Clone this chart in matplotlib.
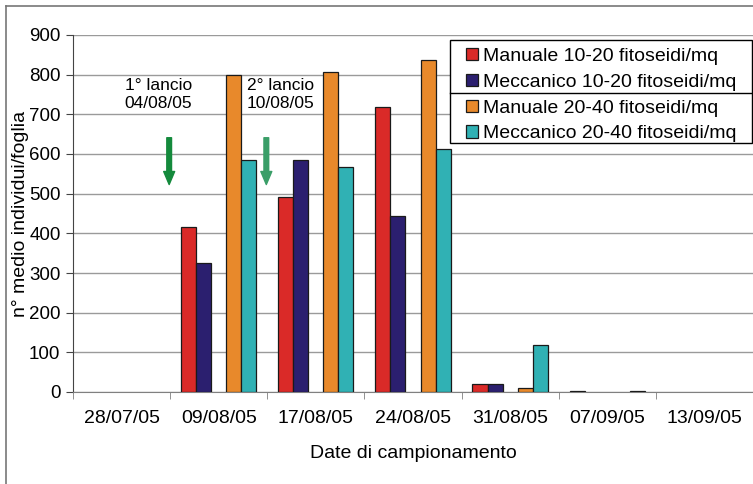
import matplotlib.pyplot as plt
import numpy as np
from matplotlib.lines import Line2D
from matplotlib.patches import Rectangle

plt.rcParams['font.family'] = ['Liberation Sans', 'DejaVu Sans']

dates = ['28/07/05', '09/08/05', '17/08/05', '24/08/05', '31/08/05', '07/09/05', '13/09/05']
labels = ['Manuale 10-20 fitoseidi/mq', 'Meccanico 10-20 fitoseidi/mq',
          'Manuale 20-40 fitoseidi/mq', 'Meccanico 20-40 fitoseidi/mq']
manuale_10_20 = [0, 416, 492, 718, 19, 1.5, 0]
meccanico_10_20 = [0, 324, 585, 444, 21, 0, 0]
manuale_20_40 = [0, 799, 806, 837, 11, 0, 0]
meccanico_20_40 = [0, 586, 567, 612, 119, 1.5, 0]
series = [manuale_10_20, meccanico_10_20, manuale_20_40, meccanico_20_40]
colors = ['#da2a28', '#2b1f6f', '#e8892b', '#30b1b4']

W, H = 753, 484
fig = plt.figure(figsize=(W / 100, H / 100), dpi=100)
ax = fig.add_axes([73 / W, (H - 392) / H, 680 / W, 357 / H])

x = np.arange(len(dates))
w = 0.155
slots = [-2, -1, 1, 2]  # middle slot of each group is empty
for vals, off, col, lab in zip(series, slots, colors, labels):
    vals = np.array(vals, float)
    ax.bar(x + off * w, vals, w, color=col, edgecolor='#1a1a1a',
           linewidth=np.where(vals > 0, 0.9, 0), zorder=3)

ax.set_xlim(-0.5, 6.5)
ax.set_ylim(0, 900)
ax.set_yticks(range(0, 901, 100))
ax.yaxis.grid(True, color='#9a9a9a', lw=1)
ax.set_axisbelow(True)
for s in ['top', 'right']:
    ax.spines[s].set_visible(False)
ax.spines['left'].set_color('#444444')
ax.spines['bottom'].set_color('#808080')

ax.set_xticks(x)
ax.set_xticklabels(dates, fontsize=14)
ax.set_xticks(np.arange(-0.5, 7), minor=True)
ax.tick_params(axis='x', which='major', length=0, pad=13)
ax.tick_params(axis='x', which='minor', length=5, color='#808080')
ax.tick_params(axis='y', length=5, pad=4, labelsize=13.5, color='#444444')
ax.set_xlabel('Date di campionamento', fontsize=14, labelpad=13)
ax.set_ylabel('n° medio individui/foglia', fontsize=14, labelpad=0)

# release annotations
ax.text(0.38, 750, '1° lancio\n04/08/05', ha='center', va='center', fontsize=12.5, linespacing=1.25)
ax.text(1.636, 750, '2° lancio\n10/08/05', ha='center', va='center', fontsize=12.5, linespacing=1.25)
arrow = 'simple,head_length=0.94,head_width=0.79,tail_width=0.34'
for xa, col in [(0.49, '#148a3c'), (1.49, '#3a9e68')]:
    ax.annotate('', xy=(xa, 523), xytext=(xa, 641),
                arrowprops=dict(arrowstyle=arrow, mutation_scale=10, fc=col, ec=col,
                                shrinkA=0, shrinkB=0), zorder=4)

# legend box with a separator between the two density groups
fig.add_artist(Rectangle((450 / W, 1 - 143 / H), 302 / W, 103 / H, transform=fig.transFigure,
                         fc='white', ec='black', lw=1, zorder=2))
fig.add_artist(Line2D([450 / W, 752 / W], [1 - 92.5 / H] * 2, color='black', lw=1, zorder=3))
handles = [Rectangle((0, 0), 1, 1, fc=c, ec='#1a1a1a', lw=0.9) for c in colors]
fig.legend(handles, labels, loc='upper left', bbox_to_anchor=(466 / W, 1 - 48 / H),
           frameon=False, fontsize=14, handlelength=0.6, handleheight=0.6,
           handletextpad=0.28, labelspacing=0.45, borderpad=0, borderaxespad=0)

# outer frame
fig.add_artist(Line2D([5.5 / W, 1], [1 - 5.5 / H] * 2, color='#777777', lw=1.2))
fig.add_artist(Line2D([5.5 / W] * 2, [0, 1 - 5.5 / H], color='#777777', lw=1.2))

fig.savefig('out.png', dpi=100)
